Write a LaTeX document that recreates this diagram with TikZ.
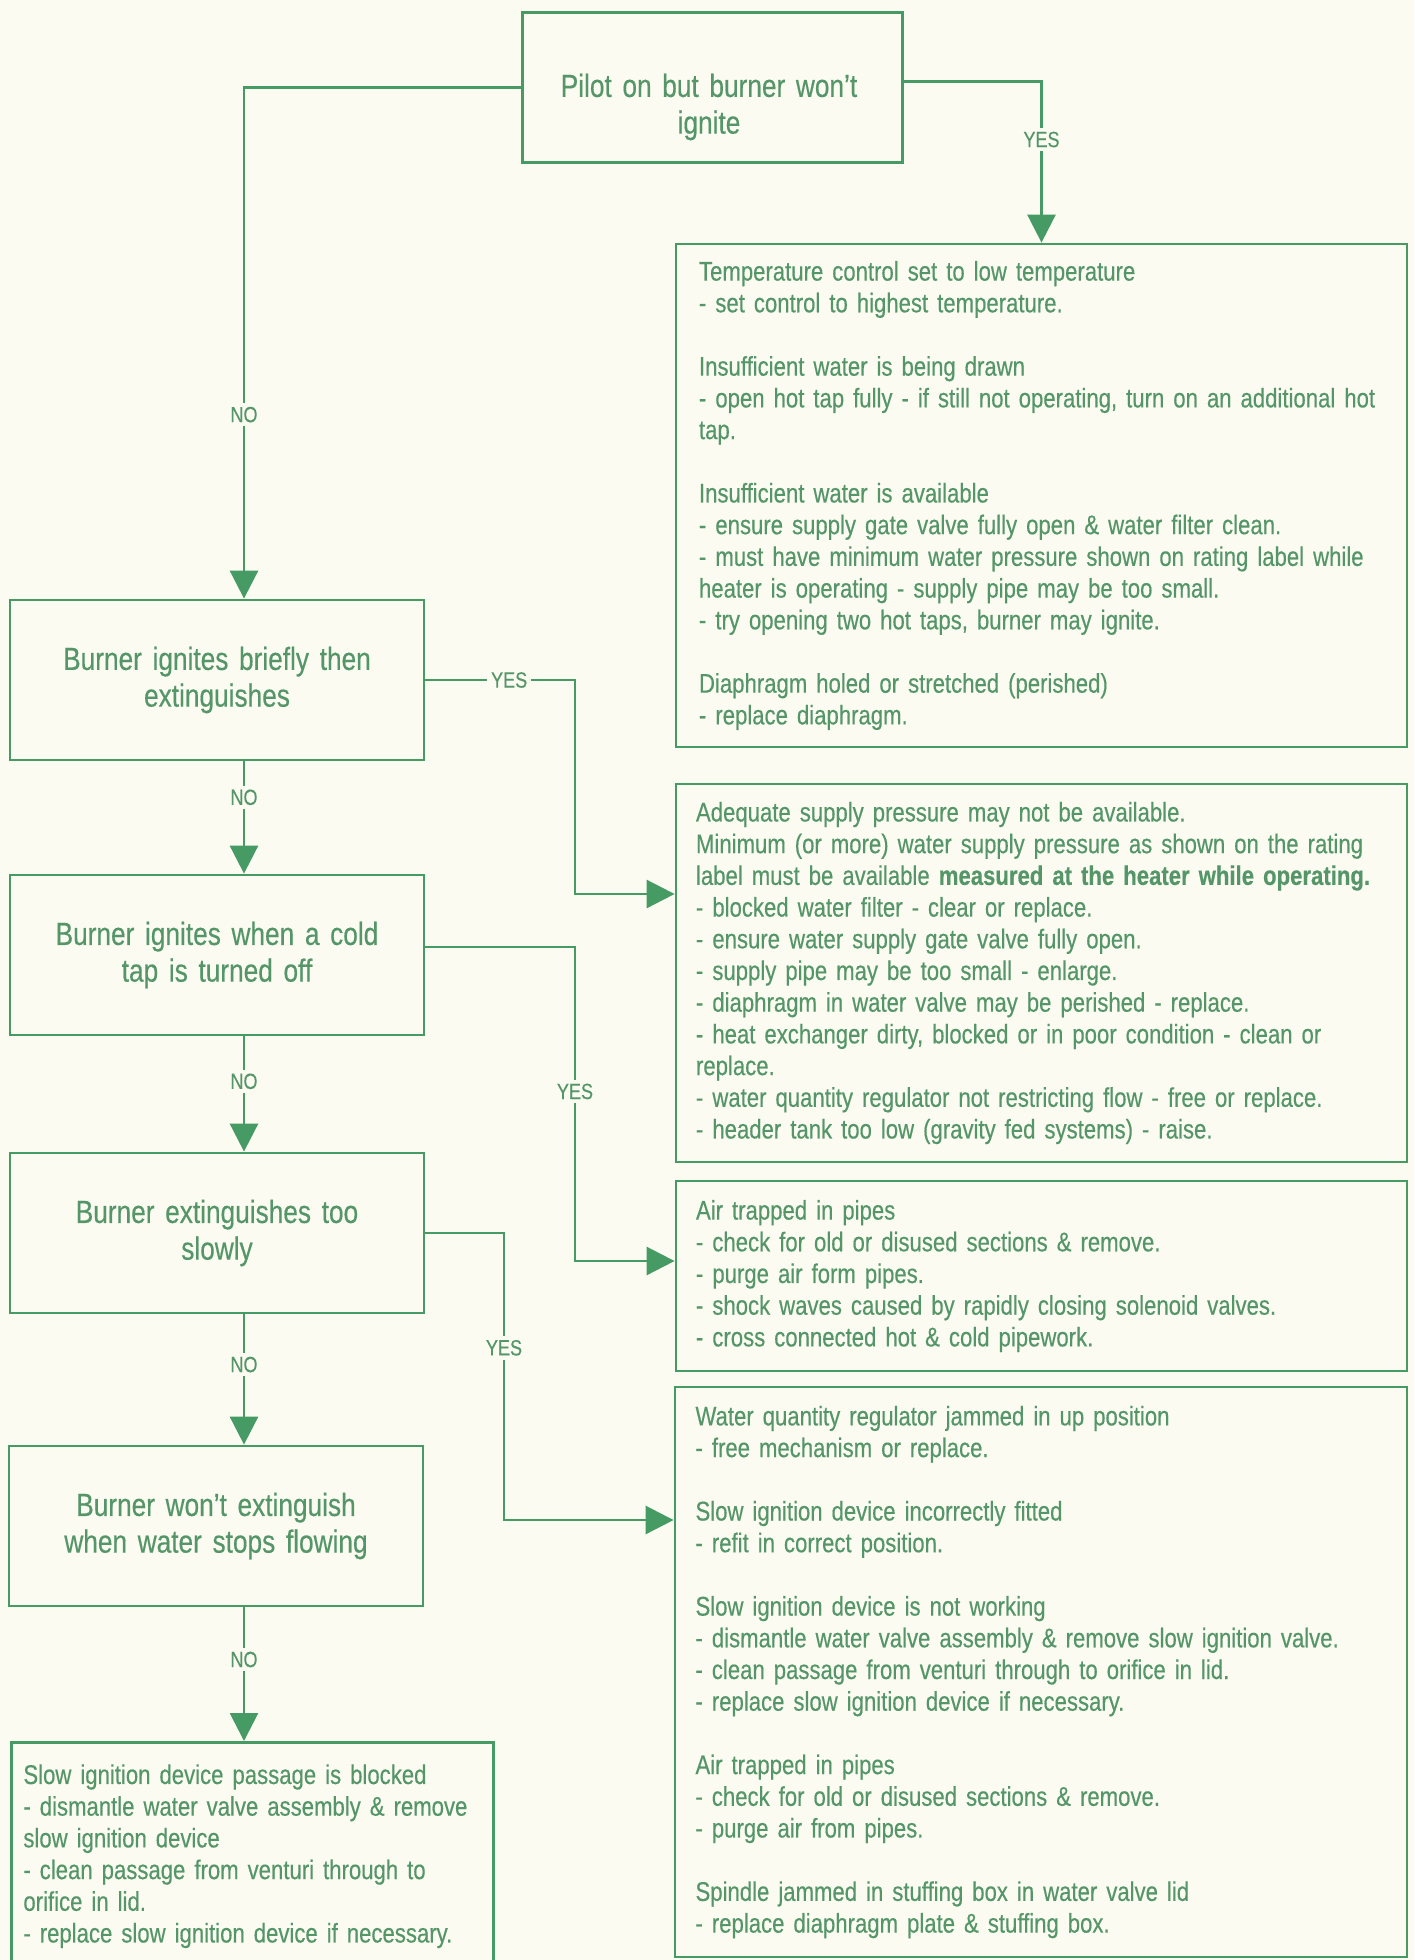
\documentclass[tikz,border=0pt]{standalone}
\usepackage{fontspec}
\setmainfont[FakeStretch=0.82,FakeBold=0.4]{Liberation Sans}
\usetikzlibrary{arrows.meta,calc}
\definecolor{paper}{RGB}{252,251,242}
\definecolor{linegreen}{RGB}{70,155,100}
\definecolor{inkgreen}{RGB}{85,150,105}
\hyphenpenalty=10000
\exhyphenpenalty=10000

\begin{document}
\begin{tikzpicture}[x=1pt,y=-1pt,
  box/.style={draw=linegreen, line width=2.8pt, inner sep=0pt},
  qbox/.style={box, minimum width=414pt, minimum height=160pt,
    text width=390pt, align=center, text=inkgreen,
    font=\fontsize{32}{36.7}\selectfont},
  abox/.style={box, minimum width=731pt, text width=691pt, inner xsep=20pt,
    align=left, text=inkgreen, font=\fontsize{27}{31.7}\selectfont},
  conn/.style={draw=linegreen, line width=2.8pt},
  arr/.style={conn, -{Triangle[length=28pt,width=28pt]}},
  lbl/.style={fill=paper, text=inkgreen, inner sep=4pt,
    font=\fontsize{22}{24}\selectfont}
]
\clip (0,0) rectangle (1414,1960);
\fill[paper] (0,0) rectangle (1414,1960);

% column of the NO arrows
\coordinate (spine) at (244,0);

% start box
\node[box, minimum width=380pt, minimum height=150pt] (q0) at (712.5,87.5) {};
\node[text width=370pt, align=center, text=inkgreen, inner sep=0pt,
  font=\fontsize{32}{36.7}\selectfont] (q0t) at (709,107)
  {Pilot on but burner won't\\ignite};

% question boxes
\node[qbox] (b1) at (217,680) {Burner ignites briefly then\\extinguishes};
\node[qbox] (b2) at (217,955) {Burner ignites when a cold\\tap is turned off};
\node[qbox] (b3) at (217,1233) {Burner extinguishes too\\slowly};
\node[qbox] (b4) at (216,1526) {Burner won't extinguish\\when water stops flowing};

% final left box, running off the foot of the page
\node[box, anchor=north west, minimum width=482pt, text width=458pt,
  inner xsep=12pt, inner ysep=22pt, align=left, text=inkgreen,
  font=\fontsize{27}{31.7}\selectfont] (b5) at (10,1741)
  {Slow ignition device passage is blocked\\
   - dismantle water valve assembly \& remove\\
   slow ignition device\\
   - clean passage from venturi through to\\
   orifice in lid.\\
   - replace slow ignition device if necessary.\\[40pt]};

% remedy boxes
\node[abox, minimum height=503pt, inner xsep=23pt, text width=685pt] (r1) at (1041.5,495.5)
  {Temperature control set to low temperature\\
   - set control to highest temperature.\\[31.7pt]
   Insufficient water is being drawn\\
   - open hot tap fully - if still not operating, turn on an additional hot\\
   tap.\\[31.7pt]
   Insufficient water is available\\
   - ensure supply gate valve fully open \& water filter clean.\\
   - must have minimum water pressure shown on rating label while\\
   heater is operating - supply pipe may be too small.\\
   - try opening two hot taps, burner may ignite.\\[31.7pt]
   Diaphragm holed or stretched (perished)\\
   - replace diaphragm.};

\node[abox, minimum height=378pt] (r2) at (1041.5,973)
  {Adequate supply pressure may not be available.\\
   Minimum (or more) water supply pressure as shown on the rating\\
   label must be available \textbf{measured at the heater while operating.}\\
   - blocked water filter - clear or replace.\\
   - ensure water supply gate valve fully open.\\
   - supply pipe may be too small - enlarge.\\
   - diaphragm in water valve may be perished - replace.\\
   - heat exchanger dirty, blocked or in poor condition - clean or\\
   replace.\\
   - water quantity regulator not restricting flow - free or replace.\\
   - header tank too low (gravity fed systems) - raise.};

\node[abox, minimum height=190pt] (r3) at (1041.5,1276)
  {Air trapped in pipes\\
   - check for old or disused sections \& remove.\\
   - purge air form pipes.\\
   - shock waves caused by rapidly closing solenoid valves.\\
   - cross connected hot \& cold pipework.};

\node[abox, minimum width=732pt, minimum height=570pt] (r4) at (1041,1672)
  {Water quantity regulator jammed in up position\\
   - free mechanism or replace.\\[31.7pt]
   Slow ignition device incorrectly fitted\\
   - refit in correct position.\\[31.7pt]
   Slow ignition device is not working\\
   - dismantle water valve assembly \& remove slow ignition valve.\\
   - clean passage from venturi through to orifice in lid.\\
   - replace slow ignition device if necessary.\\[31.7pt]
   Air trapped in pipes\\
   - check for old or disused sections \& remove.\\
   - purge air from pipes.\\[31.7pt]
   Spindle jammed in stuffing box in water valve lid\\
   - replace diaphragm plate \& stuffing box.};

% bends of the YES connectors
\coordinate (k1) at (575,894);
\coordinate (k2) at (575,1261);
\coordinate (k3) at (504,1520);

% YES connectors
\draw[arr] ($(q0.east)+(0,-6)$) -| node[lbl,pos=0.68]{YES} (r1.north);
\draw[arr] (b1.east) -| node[lbl,pos=0.28]{YES} (k1) -- (k1 -| r2.west);
\draw[arr] ($(b2.east)+(0,-8)$) -| node[lbl,pos=0.73]{YES} (k2) -- (k2 -| r3.west);
\draw[arr] (b3.east) -| node[lbl,pos=0.70]{YES} (k3) -- (k3 -| r4.west);

% NO connectors
\draw[arr] (q0.west) -| node[lbl,pos=0.82]{NO} (b1.north -| spine);
\draw[arr] (b1.south -| spine) -- node[lbl,pos=0.32]{NO} (b2.north -| spine);
\draw[arr] (b2.south -| spine) -- node[lbl,pos=0.39]{NO} (b3.north -| spine);
\draw[arr] (b3.south -| spine) -- node[lbl,pos=0.385]{NO} (b4.north -| spine);
\draw[arr] (b4.south -| spine) -- node[lbl,pos=0.39]{NO} (b5.north -| spine);
\end{tikzpicture}
\end{document}
